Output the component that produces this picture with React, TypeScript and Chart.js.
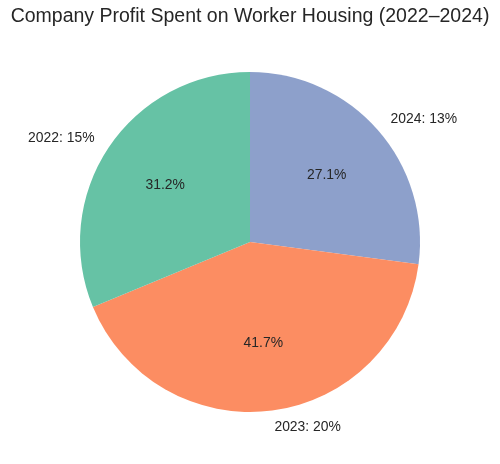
import { useEffect, useRef } from 'react';
import { Chart, registerables } from 'chart.js';

Chart.register(...registerables);

const years = ['2022', '2023', '2024'];
const profitShare = [15, 20, 13];
const sliceColors = ['#66c2a5', '#fc8d62', '#8da0cb'];
const chartTitle = 'Company Profit Spent on Worker Housing (2022–2024)';

const FONT = '"Liberation Sans", Arial, sans-serif';
const TEXT = '#262626';

// matplotlib draws counter-clockwise from the top, Chart.js clockwise,
// so feed the slices in reverse order
const order = [2, 1, 0];

// one decimal, ties to even (31.25 -> 31.2) like printf in python
function fmtPct(v: number) {
    const s = v * 10;
    let r = Math.round(s);
    if (Math.abs(s - Math.floor(s) - 0.5) < 1e-9) {
        r = Math.floor(s) % 2 === 0 ? Math.floor(s) : Math.floor(s) + 1;
    }
    return (r / 10).toFixed(1) + '%';
}

const pieLabels = {
    id: 'pieLabels',
    afterDraw(chart: Chart) {
        const { ctx } = chart;
        const meta = chart.getDatasetMeta(0);
        const total = profitShare.reduce((a, b) => a + b, 0);
        ctx.save();
        ctx.fillStyle = TEXT;

        // title
        ctx.font = `19.5px ${FONT}`;
        ctx.textAlign = 'center';
        ctx.textBaseline = 'middle';
        ctx.fillText(chartTitle, chart.width / 2, 17);

        meta.data.forEach((el: any, i: number) => {
            const idx = order[i];
            const mid = (el.startAngle + el.endAngle) / 2;
            const r = el.outerRadius;
            const cos = Math.cos(mid);
            const sin = Math.sin(mid);

            ctx.font = `13.9px ${FONT}`;
            ctx.textBaseline = 'middle';
            ctx.textAlign = cos < 0 ? 'right' : 'left';
            ctx.fillText(`${years[idx]}: ${profitShare[idx]}%`, el.x + cos * r * 1.1, el.y + sin * r * 1.1);

            ctx.textAlign = 'center';
            ctx.fillText(fmtPct((profitShare[idx] / total) * 100), el.x + cos * r * 0.6, el.y + sin * r * 0.6);
        });
        ctx.restore();
    },
};

function PieChart() {
    const canvasRef = useRef<HTMLCanvasElement>(null);
    const chartRef = useRef<Chart | null>(null);

    useEffect(() => {
        if (!canvasRef.current) return;
        chartRef.current?.destroy();

        chartRef.current = new Chart(canvasRef.current, {
            type: 'pie',
            data: {
                labels: order.map(i => years[i]),
                datasets: [
                    {
                        data: order.map(i => profitShare[i]),
                        backgroundColor: order.map(i => sliceColors[i]),
                        borderWidth: 0,
                        hoverOffset: 0,
                    },
                ],
            },
            options: {
                responsive: true,
                maintainAspectRatio: false,
                animation: false,
                layout: { padding: { top: 72, bottom: 52, left: 80, right: 80 } },
                plugins: {
                    legend: { display: false },
                    tooltip: { enabled: false },
                    title: { display: false },
                },
            },
            plugins: [pieLabels],
        } as any);

        return () => { chartRef.current?.destroy(); };
    }, []);

    return (
        <div style={{ width: 500, height: 464, background: '#fff', position: 'relative' }}>
            <canvas ref={canvasRef} />
        </div>
    );
}

export default function App() {
    useEffect(() => {
        document.body.style.margin = '0';
    }, []);
    return <PieChart />;
}
